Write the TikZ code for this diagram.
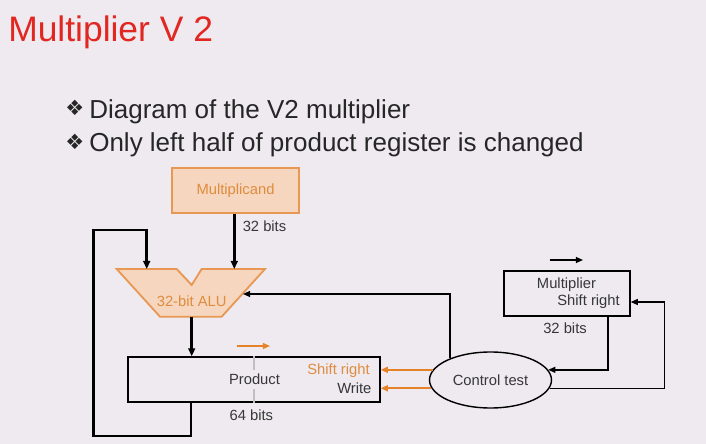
\documentclass[tikz,border=0pt]{standalone}
\usepackage{fontspec}
\setmainfont{Liberation Sans}
\newfontfamily\symfont{DejaVu Sans}
\usetikzlibrary{arrows.meta,shapes.geometric}
\definecolor{slidebg}{RGB}{238,234,240}
\definecolor{titlered}{RGB}{226,38,32}
\definecolor{aluorange}{RGB}{232,152,82}
\definecolor{alufill}{RGB}{246,214,190}
\definecolor{alutext}{RGB}{222,140,62}
\definecolor{ctlorange}{RGB}{230,130,40}
\definecolor{labelgray}{RGB}{55,55,55}
\begin{document}
\begin{tikzpicture}[x=0.25cm,y=-0.25cm,
    lbl/.style={font=\fontsize{10.5}{12}\selectfont,text=labelgray,inner sep=0pt},
    orangebox/.style={draw=aluorange,fill=alufill,line width=1.3pt},
    reg/.style={draw=black,line width=1pt,minimum height=1.125cm,inner sep=0pt},
    bus/.style={line width=2pt,-{Triangle[length=2mm,width=1.7mm]}},
    ctl/.style={line width=1pt,-{Triangle[length=1.8mm,width=1.5mm]}},
    bullet/.style={anchor=base west,inner sep=0pt,text=black!85,font=\fontsize{18.5}{22}\selectfont}]
    \fill[slidebg] (0,0) rectangle (70.6,44.4);

    \node[anchor=base west,inner sep=0pt,text=titlered,font=\fontsize{25.2}{30}\selectfont] (title) at (0.8,4.17) {Multiplier V 2};
    \node[bullet] (b1) at (6.5,11.6) {\symfont\fontsize{15}{18}\selectfont ❖};
    \node[bullet] (t1) at (8.9,11.83) {Diagram of the V2 multiplier};
    \node[bullet] (b2) at (6.5,14.94) {\symfont\fontsize{15}{18}\selectfont ❖};
    \node[bullet] (t2) at (8.9,15.17) {Only left half of product register is changed};

    % multiplicand and ALU
    \node[orangebox,lbl,text=alutext,minimum width=3.175cm,minimum height=1.125cm] (mcand) at (23.55,19.05) {Multiplicand};
    \draw[orangebox] (11.67,26.9) -- (17.67,26.9) -- (19.17,28.5) -- (20.17,26.9) -- (26.5,26.9) -- (22.17,31.67) -- (16.0,31.67) -- cycle;
    \node[lbl,text=alutext] (alu) at (19.17,30.17) {32-bit ALU};
    \coordinate (aluA) at (14.67,26.9);
    \coordinate (aluB) at (23.43,26.9);
    \coordinate (aluOut) at (19.17,31.67);
    \coordinate (aluR) at (24.3,29.4);

    % product register
    \node[reg,minimum width=6.3cm] (prod) at (25.4,37.95) {};
    \draw[black!25,line width=1pt] (prod.north) -- ++(0,1.4);
    \draw[black!25,line width=1pt] (prod.south) -- ++(0,-1.4);
    \node[lbl] (prodlbl) at (25.45,37.9) {Product};
    \node[lbl,text=alutext,anchor=east] (shiftlbl) at (37.0,37.07) {Shift right};
    \node[lbl,anchor=east] (writelbl) at (37.17,38.8) {Write};
    \node[lbl] (prodbits) at (25.13,41.5) {64 bits};
    \coordinate (phA) at (23.67,34.6);
    \coordinate (phB) at (27.0,34.6);
    \draw[ctl,ctlorange] (phA) -- (phB);

    % control and multiplier
    \node[draw,ellipse,line width=1pt,minimum width=3.05cm,minimum height=1.4cm,inner sep=0pt,
          font=\fontsize{10.5}{12}\selectfont,text=labelgray] (ctrl) at (49.05,38.0) {Control test};
    \node[reg,minimum width=3.15cm] (mplr) at (56.7,29.35) {};
    \node[lbl] (mplrlbl) at (56.65,28.5) {Multiplier};
    \node[lbl,anchor=east] (mplrshift) at (62.0,30.2) {Shift right};
    \node[lbl] (mplrbits) at (56.5,32.8) {32 bits};
    \coordinate (mhA) at (54.97,26.0);
    \coordinate (mhB) at (58.3,26.0);
    \draw[ctl] (mhA) -- (mhB);
    \coordinate (mplrin) at (mplr.east |- mplrshift);

    % data paths
    \draw[bus] (mcand.south -| aluB) -- (aluB);
    \node[lbl] (mcbits) at (26.45,22.67) {32 bits};
    \draw[bus] (aluOut) -- (aluOut |- prod.north);
    \coordinate (loopBL) at (9.33,43.6);
    \coordinate (loopTL) at (14.67,23.0);
    \draw[bus] ([xshift=-1.575cm]prod.south) |- (loopBL) |- (loopTL) -- (aluA);

    % control paths
    \draw[ctl] (ctrl.152) |- (aluR);
    \draw[ctl,ctlorange,line width=1.3pt] (ctrl.170) -- (ctrl.170 -| prod.east);
    \draw[ctl,ctlorange,line width=1.3pt] (ctrl.188) -- (ctrl.188 -| prod.east);
    \draw[ctl] ([xshift=1.02cm]mplr.south) |- (ctrl.10);
    \draw[ctl] (ctrl.352) -| ([xshift=0.85cm]mplrin) -- (mplrin);
\end{tikzpicture}
\end{document}
